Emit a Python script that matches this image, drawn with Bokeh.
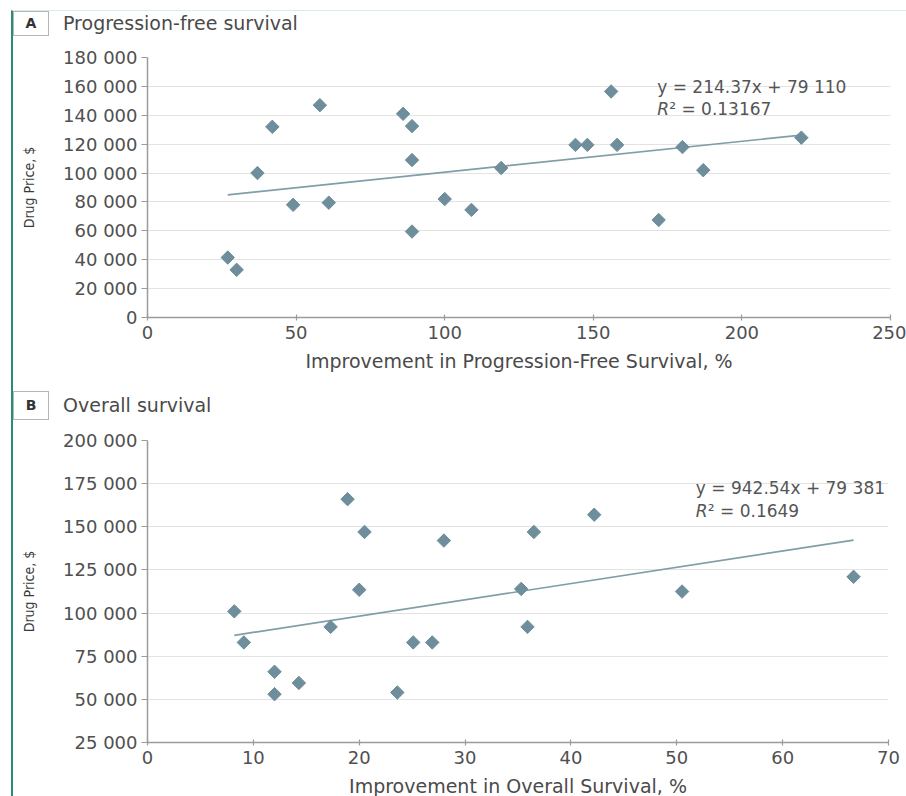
import math

from bokeh.embed import file_html
from bokeh.layouts import column
from bokeh.models import Div, FixedTicker, Label
from bokeh.plotting import figure
from bokeh.resources import INLINE

# ---- Panel A: progression-free survival ----
pfs_improvement = [27, 30, 37, 42, 49, 58, 61, 86, 89, 89, 89, 100, 109, 119,
                   144, 148, 156, 158, 172, 180, 187, 220]
pfs_price = [41500, 33000, 100000, 132000, 78000, 147000, 79500, 141000, 132500,
             109000, 59500, 82000, 74500, 103500, 119500, 119500, 156500, 119500,
             67500, 118000, 102000, 124500]
pfs_slope = 214.37
pfs_intercept = 79110
pfs_r2 = "0.13167"
pfs_x_ticks = [0, 50, 100, 150, 200, 250]
pfs_y_ticks = [0, 20000, 40000, 60000, 80000, 100000, 120000, 140000, 160000, 180000]

# ---- Panel B: overall survival ----
os_improvement = [8.2, 9.1, 12.0, 12.0, 14.3, 17.3, 18.9, 20.0, 20.5, 23.6, 25.1,
                  26.9, 28.0, 35.3, 35.9, 36.5, 42.2, 50.5, 66.7]
os_price = [101000, 83000, 66000, 53000, 59500, 92000, 166000, 113500, 147000,
            54000, 83000, 83000, 142000, 114000, 92000, 147000, 157000, 112500,
            121000]
os_slope = 942.54
os_intercept = 79381
os_r2 = "0.1649"
os_x_ticks = [0, 10, 20, 30, 40, 50, 60, 70]
os_y_ticks = [25000, 50000, 75000, 100000, 125000, 150000, 175000, 200000]

FONT = "DejaVu Sans"
NARROW = "'Liberation Sans Narrow', 'DejaVu Sans Condensed', sans-serif"
TEXT = "#4a4a4a"
MARKER = "#6d8e9a"
TREND = "#7f9ea8"
AXIS = "#9b9b9b"
PAGE_W = 893


def thousands(v):
    return f"{v:,}".replace(",", " ")


def make_header(letter, title, box_h):
    """Panel heading: boxed panel letter followed by the panel name."""
    html = (
        f'<div style="display:flex;align-items:flex-start;height:35px;'
        f'font-family:\'{FONT}\';">'
        f'<span style="display:inline-block;box-sizing:border-box;width:36px;'
        f'height:{box_h}px;line-height:{box_h - 2}px;border:1px solid #b5b5b5;'
        f'text-align:center;font-weight:bold;font-size:14px;color:#333333;">'
        f'{letter}</span>'
        f'<span style="margin-left:14px;line-height:{box_h}px;font-size:19px;'
        f'color:{TEXT};white-space:nowrap;">{title}</span></div>'
    )
    return Div(text=html, width=PAGE_W, height=35, margin=0)


def make_panel(xs, ys, slope, intercept, r2, x_ticks, y_ticks,
               x_label, frame_w, frame_h, top, bottom, eq_pos):
    p = figure(frame_width=frame_w, frame_height=frame_h,
               x_range=(x_ticks[0], x_ticks[-1]), y_range=(y_ticks[0], y_ticks[-1]),
               min_border_left=134, min_border_right=16,
               min_border_top=top, min_border_bottom=bottom,
               output_backend="svg", toolbar_location=None,
               background_fill_color="white", border_fill_color="white")
    p.outline_line_color = None
    p.xgrid.visible = False
    p.ygrid.grid_line_color = "#e3e3e3"
    p.ygrid.grid_line_width = 1.2

    # y axis
    p.yaxis.ticker = FixedTicker(ticks=y_ticks)
    p.yaxis.major_label_overrides = {t: thousands(t) for t in y_ticks}
    p.yaxis.minor_tick_line_color = None
    p.yaxis.major_tick_in = 0
    p.yaxis.major_tick_out = 6
    p.yaxis.major_label_standoff = 4
    p.yaxis.axis_label = "Drug Price, $"
    p.yaxis.axis_label_text_font = NARROW
    p.yaxis.axis_label_text_font_size = "14px"
    p.yaxis.axis_label_text_font_style = "normal"
    p.yaxis.axis_label_text_color = "#3a3a3a"
    p.yaxis.axis_label_standoff = 23

    # x axis
    p.xaxis.ticker = FixedTicker(ticks=x_ticks)
    p.xaxis.minor_tick_line_color = None
    p.xaxis.major_tick_in = 3
    p.xaxis.major_tick_out = 3
    p.xaxis.major_label_standoff = 5
    p.xaxis.axis_label = x_label
    p.xaxis.axis_label_text_font = FONT
    p.xaxis.axis_label_text_font_size = "19px"
    p.xaxis.axis_label_text_font_style = "normal"
    p.xaxis.axis_label_text_color = TEXT
    p.xaxis.axis_label_standoff = 8

    for ax in (p.xaxis, p.yaxis):
        ax.axis_line_color = AXIS
        ax.axis_line_width = 1.5
        ax.major_tick_line_color = AXIS
        ax.major_tick_line_width = 1.2
        ax.major_label_text_font = FONT
        ax.major_label_text_font_size = "18px"
        ax.major_label_text_color = "#505050"

    # fitted trend line over the data span
    x0, x1 = min(xs), max(xs)
    p.line([x0, x1], [slope * x0 + intercept, slope * x1 + intercept],
           line_color=TREND, line_width=1.7)

    p.scatter(xs, ys, marker="square", size=9.5, angle=math.pi / 4,
              fill_color=MARKER, line_color=MARKER)

    # regression equation
    ex, ey1, ey2 = eq_pos
    eq_style = dict(text_font=FONT, text_font_size="17px", text_color="#555555",
                    text_baseline="middle")
    p.add_layout(Label(x=ex, y=ey1, text=f"y = {slope}x + {thousands(intercept)}",
                       **eq_style))
    p.add_layout(Label(x=ex, y=ey2, text="R", text_font_style="italic", **eq_style))
    p.add_layout(Label(x=ex, y=ey2, x_offset=12, text=f"\u00b2 = {r2}", **eq_style))
    return p


hA = make_header("A", "Progression-free survival", 25)
pA = make_panel(pfs_improvement, pfs_price, pfs_slope, pfs_intercept, pfs_r2,
                pfs_x_ticks, pfs_y_ticks,
                "Improvement in Progression-Free Survival, %",
                743, 260, 11, 74, (171.5, 159800, 144300))
hB = make_header("B", "Overall survival", 29)
pB = make_panel(os_improvement, os_price, os_slope, os_intercept, os_r2,
                os_x_ticks, os_y_ticks,
                "Improvement in Overall Survival, %",
                741, 302, 14, 54, (51.8, 172600, 158900))

layout = column(hA, pA, hB, pB, spacing=0,
                styles={"margin-left": "11px", "margin-top": "10px",
                        "border-left": "2px solid #2e8b7c",
                        "border-top": "1px solid #d2eef1"})

open("out.html", "w").write(file_html(layout, INLINE))
